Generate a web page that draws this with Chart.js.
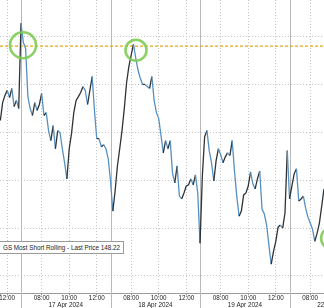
<!DOCTYPE html>
<html><head><meta charset="utf-8">
<script src="https://cdn.jsdelivr.net/npm/chart.js@4.4.1/dist/chart.umd.min.js"></script>
<style>
html,body{margin:0;padding:0;background:#fff;overflow:hidden;}
#wrap{position:relative;width:324px;height:308px;}
#legend{position:absolute;left:-1px;top:241px;height:11px;padding:0 3px;border:1px solid #9a9a9a;background:#fff;font:6.3px "Liberation Sans",Arial,sans-serif;line-height:11px;color:#222;white-space:nowrap;}
</style></head><body>
<div id="wrap"><canvas id="c" width="324" height="308"></canvas><div id="legend"></div></div>
<script>
const seriesName = 'GS Most Short Rolling';
const lastPrice = '148.22';
// trading time in hours relative to 17 Apr 2024 session open (06:30), 10-minute steps
const startHour = -1.5;
const stepHours = 10 / 60;
const prices = [
154.50,155.25,155.55,155.76,155.46,155.84,155.08,155.34,155.00,158.57,
157.77,157.52,155.50,155.00,154.71,155.25,154.92,155.17,155.63,154.71,
154.83,154.08,153.66,154.29,153.32,154.08,153.99,153.32,152.73,152.06,
153.32,153.95,154.83,155.34,155.50,155.67,155.92,155.76,155.17,155.76,
156.34,154.92,153.74,153.74,153.40,153.49,153.32,152.90,151.97,150.71,
151.55,152.60,153.32,154.08,155.00,156.09,156.76,157.23,157.69,157.10,
156.60,156.26,156.01,156.01,155.92,155.84,156.34,155.34,154.83,154.58,
153.87,153.15,153.66,153.32,153.66,152.31,151.89,152.60,151.34,151.22,
151.47,151.76,151.81,152.06,151.81,152.23,151.47,149.37,152.18,153.82,
154.08,153.24,152.73,151.97,152.82,153.32,153.07,152.73,152.98,153.15,
153.03,153.66,152.39,151.34,150.50,150.71,151.39,151.47,151.76,152.35,
151.85,151.64,152.06,152.39,150.80,150.59,150.13,149.29,148.49,149.03,
149.45,150.04,150.13,150.00,150.63,153.24,151.22,151.76,152.27,152.48,
151.13,151.22,151.34,150.84,150.46,150.21,149.96,149.45,149.79,150.21,
150.92,151.64
];
const resistanceLevel = 157.61;
const timeTicks = [-1, 1.5, 3.5, 5.5, 8, 10, 12, 14.5, 16.5, 18.5, 21];
const timeLabels = ['12:00','08:00','10:00','12:00','08:00','10:00','12:00','08:00','10:00','12:00','08:00'];
const daySeparators = [0, 6.5, 13, 19.5];
const dayCenters = [3.25, 9.75, 16.25, 22.75];
const dayLabels = ['17 Apr 2024','18 Apr 2024','19 Apr 2024','22 Apr 2024'];
const priceGrid = [148, 150, 152, 154, 156, 158];
const highlights = [[0.145, 157.65, 13], [8.35, 157.44, 10.5], [22.59, 149.58, 11]];
const xMin = -1.525, xMax = 22.0;
const yMin = 147.27, yMax = 159.54;

document.getElementById('legend').textContent = seriesName + ' - Last Price ' + lastPrice;

const pricePoints = prices.map((v, i) => ({x: startHour + i * stepHours, y: v}));
const resistancePoints = [{x: xMin, y: resistanceLevel}, {x: xMax, y: resistanceLevel}];

const separatorPlugin = {
  id: 'separators',
  beforeDatasetsDraw(chart) {
    const ctx = chart.ctx, xs = chart.scales.x;
    ctx.save();
    ctx.strokeStyle = '#b9b9b9';
    ctx.lineWidth = 1;
    daySeparators.forEach(v => {
      const px = Math.round(xs.getPixelForValue(v)) + 0.5;
      ctx.beginPath(); ctx.moveTo(px, chart.chartArea.top); ctx.lineTo(px, chart.height); ctx.stroke();
    });
    ctx.restore();
  }
};
const highlightPlugin = {
  id: 'highlights',
  afterDatasetsDraw(chart) {
    const ctx = chart.ctx, xs = chart.scales.x, ys = chart.scales.y;
    ctx.save();
    ctx.strokeStyle = 'rgba(128,204,84,0.9)';
    ctx.lineWidth = 2.6;
    highlights.forEach(([t, v, r]) => {
      ctx.beginPath();
      ctx.arc(xs.getPixelForValue(t), ys.getPixelForValue(v), r, 0, Math.PI * 2);
      ctx.stroke();
    });
    ctx.restore();
  }
};

const tickFont = {family: '"Liberation Sans", Arial, sans-serif', size: 6.3, lineHeight: 1};

new Chart(document.getElementById('c'), {
  type: 'line',
  data: {
    datasets: [
      {
        data: pricePoints,
        borderWidth: 1.3,
        pointRadius: 0,
        tension: 0,
        borderColor: '#4f8cc0',
        segment: {
          borderColor: c => (c.p1.parsed.y >= c.p0.parsed.y ? '#2e3338' : '#5590c2')
        }
      },
      {
        data: resistancePoints,
        borderColor: '#e8a812',
        borderDash: [3, 2],
        borderWidth: 1.4,
        pointRadius: 0
      }
    ]
  },
  options: {
    responsive: false,
    animation: false,
    devicePixelRatio: 1,
    layout: {padding: 0},
    plugins: {legend: {display: false}, tooltip: {enabled: false}},
    scales: {
      x: {
        type: 'linear', position: 'bottom', weight: 0, min: xMin, max: xMax,
        afterBuildTicks: s => { s.ticks = [{value: xMin}].concat(timeTicks.map(v => ({value: v})), [{value: xMax}]); },
        ticks: {
          autoSkip: false, maxRotation: 0, minRotation: 0, padding: 0, color: '#222', font: tickFont,
          callback: (v, i, arr) => (i === 0 || i === arr.length - 1) ? '' : timeLabels[i - 1]
        },
        grid: {
          color: c => (c.index === 0 || c.index === timeTicks.length + 1) ? 'rgba(0,0,0,0)' : '#c6c6c6',
          tickColor: '#9a9a9a', tickLength: 2, drawTicks: true
        },
        border: {display: true, color: '#9c9c9c', dash: [1, 2]}
      },
      x2: {
        type: 'linear', position: 'bottom', weight: 1, min: xMin, max: xMax,
        afterBuildTicks: s => { s.ticks = [{value: xMin}].concat(dayCenters.map(v => ({value: v})), [{value: xMax}]); },
        ticks: {
          autoSkip: false, maxRotation: 0, minRotation: 0, padding: 0, color: '#222', font: tickFont,
          callback: (v, i, arr) => (i === 0 || i === arr.length - 1) ? '' : dayLabels[i - 1]
        },
        grid: {display: false, drawTicks: false},
        border: {display: false}
      },
      y: {
        type: 'linear', min: yMin, max: yMax,
        afterBuildTicks: s => { s.ticks = priceGrid.map(v => ({value: v})); },
        ticks: {display: false},
        grid: {color: '#c6c6c6', drawTicks: false},
        border: {display: false, dash: [1, 2]}
      }
    }
  },
  plugins: [separatorPlugin, highlightPlugin]
});
</script>
</body></html>
